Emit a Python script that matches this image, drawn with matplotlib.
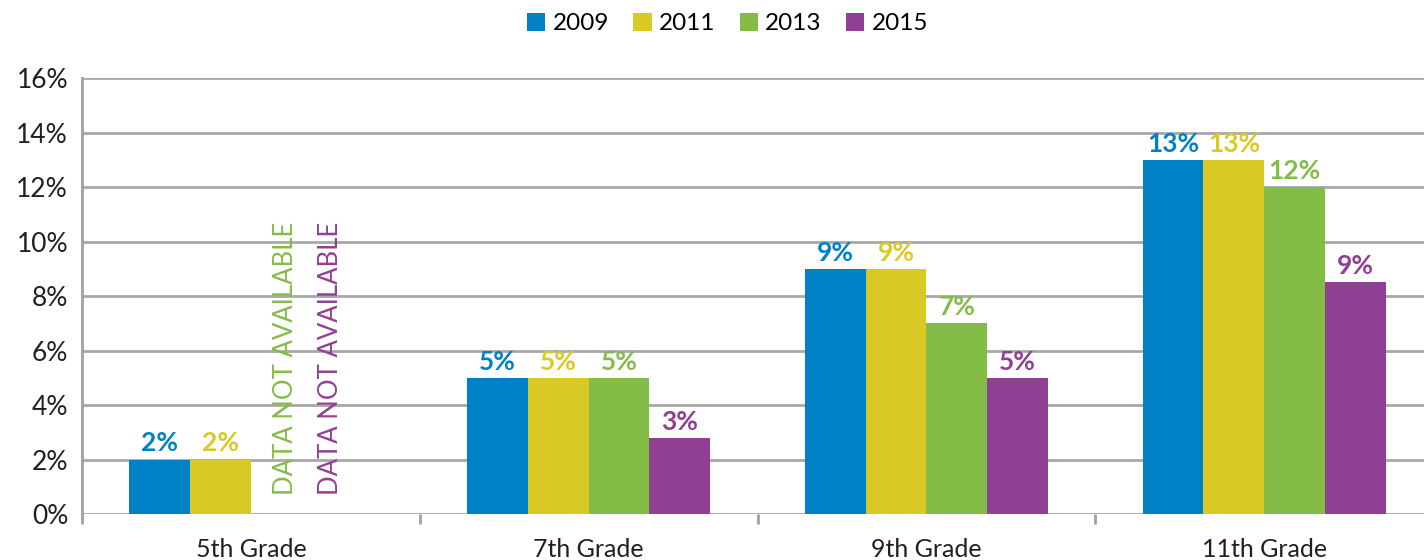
import numpy as np
import matplotlib.pyplot as plt
from matplotlib.patches import Patch

plt.rcParams['font.family'] = ['Lato', 'DejaVu Sans']

grades = ["5th Grade", "7th Grade", "9th Grade", "11th Grade"]
years = ["2009", "2011", "2013", "2015"]
colors = ["#0081c6", "#dac924", "#84bc48", "#913f92"]

# percentages per survey year (None = not surveyed for that grade)
v2009 = [2.0, 5.0, 9.0, 13.0]
v2011 = [2.0, 5.0, 9.0, 13.0]
v2013 = [None, 5.0, 7.0, 12.0]
v2015 = [None, 2.8, 5.0, 8.5]
series = [v2009, v2011, v2013, v2015]

fig = plt.figure(figsize=(14.24, 5.6), dpi=100)
ax = fig.add_axes([0.0576, 0.0821, 0.9488, 0.7786])

w = 0.18
x = np.arange(len(grades))
for i, (vals, col) in enumerate(zip(series, colors)):
    off = (i - 1.5) * w
    for xi, v in zip(x, vals):
        if v is None:
            # shift the second note a little left so it sits beside the first
            tx = xi + off + 0.012 - (0.045 if i == 3 else 0)
            ax.text(tx, 0.7, "DATA NOT AVAILABLE", rotation=90, ha="center",
                    va="bottom", color=col, fontsize=18.5)
            continue
        ax.bar(xi + off, v, width=w, color=col, zorder=3)
        ax.text(xi + off, v + 0.15, f"{int(v + 0.5)}%", ha="center", va="bottom",
                color=col, fontsize=19, fontweight="bold", zorder=4)

ax.set_xlim(-0.5, 3.5)
ax.set_ylim(0, 16)
ax.set_yticks(np.arange(0, 17, 2))
ax.set_yticklabels([f"{t}%" for t in range(0, 17, 2)])
ax.set_xticks(x)
ax.set_xticklabels(grades)
ax.set_xticks([-0.5, 0.5, 1.5, 2.5], minor=True)
ax.tick_params(axis="x", which="major", length=0, pad=17, labelsize=18, labelcolor="#231f20")
ax.tick_params(axis="x", which="minor", length=7, width=2, color="#a0a0a0")
ax.tick_params(axis="y", length=0, pad=10, labelsize=19, labelcolor="#231f20")

ax.grid(axis="y", color="#a8a8a8", linewidth=2, zorder=0)
for s in ["top", "right", "bottom"]:
    ax.spines[s].set_visible(False)
ax.spines["left"].set_color("#a0a0a0")
ax.spines["left"].set_linewidth(2)

handles = [Patch(facecolor=c, label=y) for c, y in zip(colors, years)]
fig.legend(handles=handles, loc="center", bbox_to_anchor=(0.511, 0.958), ncol=4,
           frameon=False, fontsize=17.5, handlelength=0.75, handleheight=0.75,
           handletextpad=0.3, columnspacing=1.0)

fig.savefig("out.png", dpi=100)
